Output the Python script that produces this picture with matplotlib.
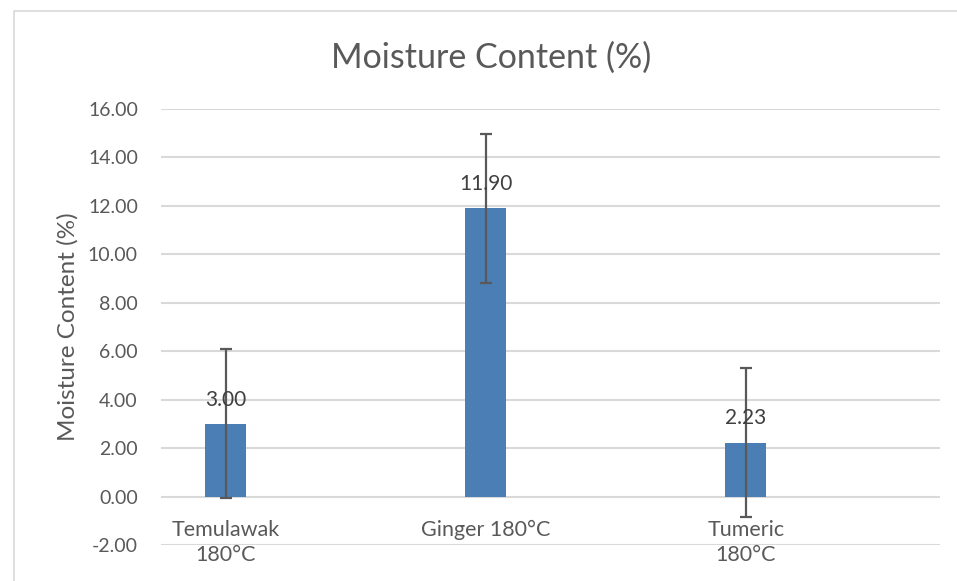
import matplotlib
matplotlib.use("Agg")
from matplotlib import pyplot as plt
from matplotlib.patches import Rectangle
import matplotlib.transforms as mtransforms

# data
categories = ["Temulawak\n180°C", "Ginger 180°C", "Tumeric\n180°C"]
moisture = [3.00, 11.90, 2.23]
errors = [3.08, 3.08, 3.08]
y_ticks = [-2, 0, 2, 4, 6, 8, 10, 12, 14, 16]

plt.rcParams['font.family'] = ['Lato', 'DejaVu Sans']
txt_color = '#595959'
bar_color = '#4a7eb5'
grid_color = '#d9d9d9'

fig = plt.figure(figsize=(9.57, 5.81), dpi=100)
ax = fig.add_axes([0.168, 0.062, 0.814, 0.7504])

x = list(range(len(categories)))
ax.bar(x, moisture, width=0.157, color=bar_color, zorder=2)
ax.errorbar(x, moisture, yerr=errors, fmt='none', ecolor=txt_color,
            elinewidth=1.6, capsize=4.5, capthick=1.6, zorder=3)

# value labels above each bar
for xi, v in zip(x, moisture):
    ax.annotate(f"{v:.2f}", (xi, v), xytext=(0, 17.5), textcoords='offset points',
                ha='center', va='center', fontsize=15, color='#404040', zorder=4)

ax.set_xlim(-0.25, 2.746)
ax.set_ylim(-2, 16)
ax.set_yticks(y_ticks)
ax.set_yticklabels([f"{t:.2f}" for t in y_ticks], fontsize=14, color=txt_color)
ax.tick_params(axis='y', length=0, pad=16.5)
ax.set_xticks([])
ax.grid(axis='y', color=grid_color, linewidth=1.5, zorder=0)
for s in ax.spines.values():
    s.set_visible(False)

# category labels sit just below the zero line, like Excel does
trans = mtransforms.blended_transform_factory(ax.transData, ax.transAxes)
for xi, lab in zip(x, categories):
    ax.text(xi, 0.058, lab, transform=trans, ha='center', va='top',
            fontsize=15.5, color=txt_color, linespacing=1.35)

ax.set_ylabel("Moisture Content (%)", fontsize=17.5, color=txt_color, labelpad=7)
fig.text(0.513, 0.9, "Moisture Content (%)", ha='center', va='center',
         fontsize=24.5, color=txt_color)

# chart border
fig.patches.append(Rectangle((14 / 957, -0.1), 1.2, 1 - 11 / 581 + 0.1,
                             transform=fig.transFigure, fill=False,
                             edgecolor='#d9d9d9', linewidth=1.2))

fig.savefig("out.png", dpi=100)
